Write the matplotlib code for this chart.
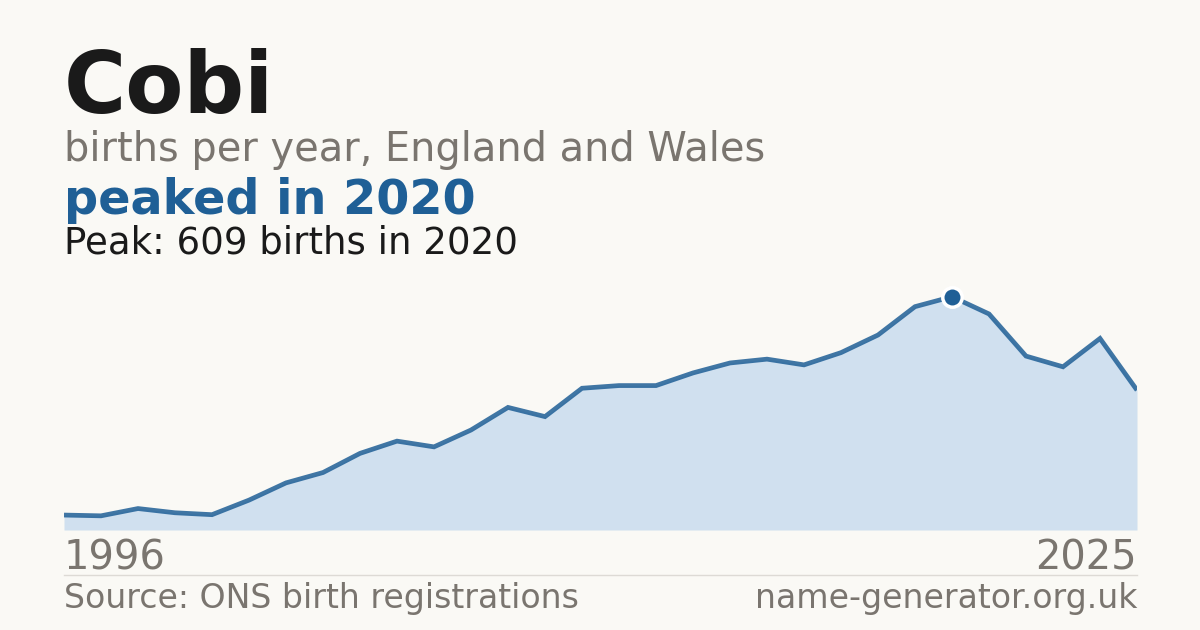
import numpy as np
import matplotlib.pyplot as plt

# data
years = np.arange(1996, 2026)
births = [39, 37, 56, 45, 40, 78, 123, 150, 200, 232,
          217, 261, 320, 296, 370, 377, 377, 410, 436, 446,
          431, 463, 509, 583, 609, 564, 454, 426, 500, 365]
name = "Cobi"
peak_year = 2020
peak_value = 609

# colours
bg = '#faf9f5'
ink = '#1a1a1a'
grey = '#7a756f'
blue = '#1f5f96'
fill = '#d0e0ef'

W, H = 1200, 630
fig = plt.figure(figsize=(W / 100, H / 100), dpi=100, facecolor=bg)

def fy(px):
    return 1 - px / H

# chart area: from x=64 to 1137, baseline at y=530
ax = fig.add_axes([64 / W, fy(530), (1137 - 64) / W, (530 - 280) / H])
ax.set_facecolor(bg)
ax.fill_between(years, births, 0, color=fill, lw=0)
ax.plot(years, births, color=blue, lw=3.4, alpha=0.85, solid_joinstyle='miter',
        solid_capstyle='butt')
ax.plot([peak_year], [peak_value], 'o', ms=14, color=blue, mec='white', mew=2.5,
        clip_on=False, zorder=5)
ax.set_xlim(years[0], years[-1])
ax.set_ylim(0, peak_value * 250 / 233.3)
ax.axis('off')

# header text
fig.text(64 / W, fy(113), name, fontsize=61, fontweight='bold', color=ink, va='baseline')
fig.text(64 / W, fy(161), "births per year, England and Wales", fontsize=28.7,
         color=grey, va='baseline')
fig.text(64 / W, fy(214), f"peaked in {peak_year}", fontsize=34.4, fontweight='bold',
         color=blue, va='baseline')
fig.text(64 / W, fy(253), f"Peak: {peak_value} births in {peak_year}", fontsize=26.7,
         color=ink, va='baseline')

# year labels
fig.text(64 / W, fy(569), str(years[0]), fontsize=28.8, color=grey, va='baseline')
fig.text(1137 / W, fy(569), str(years[-1]), fontsize=28.8, color=grey, va='baseline',
         ha='right')

# separator and footer
fig.add_artist(plt.Line2D([64 / W, 1137 / W], [fy(574.5), fy(574.5)], color='#dddad5',
                          lw=1))
fig.text(64 / W, fy(608), "Source: ONS birth registrations", fontsize=23.9, color=grey,
         va='baseline')
fig.text(1137 / W, fy(608), "name-generator.org.uk", fontsize=23.9, color=grey,
         va='baseline', ha='right')

fig.savefig('out.png', dpi=100, facecolor=bg)
